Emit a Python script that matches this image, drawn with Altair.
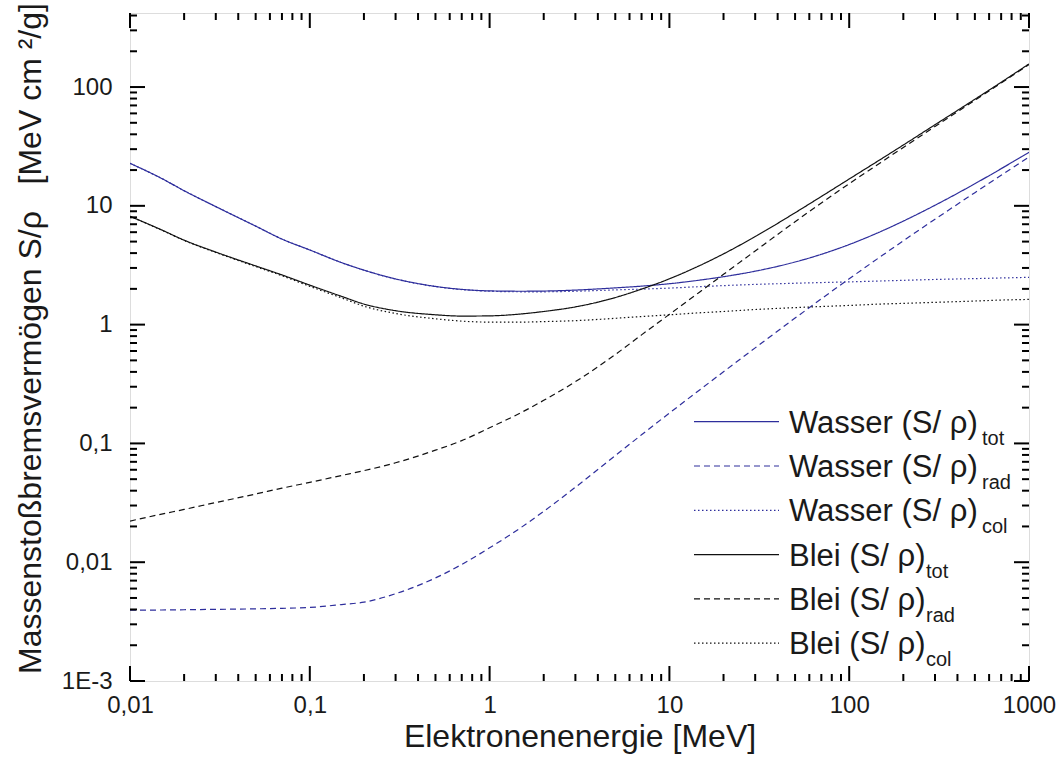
import altair as alt
import pandas as pd

# ---------------- data ----------------
energy = [0.01, 0.015, 0.02, 0.03, 0.05, 0.07, 0.1, 0.15, 0.2, 0.3, 0.5, 0.7,
          1, 1.5, 2, 3, 5, 7, 10, 15, 20, 30, 50, 70, 100, 150, 200, 300, 500, 700, 1000]

wasser_tot = [22.80, 17.00, 13.40, 9.85, 6.75, 5.25, 4.25, 3.33, 2.875, 2.425, 2.097, 1.98,
              1.923, 1.91, 1.917, 1.953, 2.039, 2.108, 2.21, 2.378, 2.531, 2.817, 3.365,
              3.908, 4.722, 6.083, 7.437, 10.107, 15.35, 20.54, 28.24]
wasser_rad = [0.00394, 0.00396, 0.00398, 0.00401, 0.00405, 0.00409, 0.00416, 0.0044,
              0.00461, 0.00543, 0.00737, 0.00958, 0.01321, 0.01965, 0.0268, 0.04275,
              0.0789, 0.1182, 0.180, 0.288, 0.401, 0.637, 1.135, 1.648, 2.432, 3.753,
              5.077, 7.707, 12.91, 18.07, 25.74]
wasser_col = [22.8, 17.0, 13.4, 9.85, 6.75, 5.25, 4.25, 3.33, 2.87, 2.42, 2.09, 1.97,
              1.91, 1.89, 1.89, 1.91, 1.96, 1.99, 2.03, 2.09, 2.13, 2.18, 2.23, 2.26,
              2.29, 2.33, 2.36, 2.40, 2.44, 2.47, 2.50]
blei_tot = [8.17, 6.27, 5.14, 4.08, 3.12, 2.62, 2.15, 1.73, 1.49, 1.31, 1.21, 1.18,
            1.185, 1.23, 1.29, 1.41, 1.69, 1.99, 2.43, 3.18, 3.94, 5.51, 8.74, 11.99,
            16.82, 24.69, 32.51, 48.14, 78.88, 109.6, 156.6]
blei_rad = [0.0222, 0.0254, 0.0278, 0.0318, 0.0375, 0.042, 0.047, 0.0537, 0.059, 0.0687,
            0.0877, 0.1055, 0.1354, 0.182, 0.2305, 0.331, 0.56, 0.82, 1.22, 1.92, 2.65,
            4.17, 7.35, 10.57, 15.37, 23.2, 31.0, 46.6, 77.3, 108, 155]
blei_col = [8.15, 6.24, 5.11, 4.05, 3.08, 2.58, 2.10, 1.68, 1.43, 1.24, 1.12, 1.07,
            1.05, 1.05, 1.06, 1.08, 1.13, 1.17, 1.21, 1.26, 1.29, 1.34, 1.39, 1.42,
            1.45, 1.49, 1.51, 1.54, 1.58, 1.61, 1.63]

series_names = ["Wasser tot", "Wasser rad", "Wasser col", "Blei tot", "Blei rad", "Blei col"]
series_values = [wasser_tot, wasser_rad, wasser_col, blei_tot, blei_rad, blei_col]
legend_main = ["Wasser (S/ ρ)", "Wasser (S/ ρ)", "Wasser (S/ ρ)",
               "Blei (S/ ρ)", "Blei (S/ ρ)", "Blei (S/ ρ)"]
legend_sub = ["tot", "rad", "col", "tot", "rad", "col"]

x_major = [0.01, 0.1, 1, 10, 100, 1000]
y_major = [0.001, 0.01, 0.1, 1, 10, 100]
x_minor = [m * d for d in [0.01, 0.1, 1, 10, 100] for m in range(2, 10)]
y_minor = [m * d for d in [0.001, 0.01, 0.1, 1, 10, 100] for m in range(2, 10) if m * d <= 420]

# ---------------- style / layout ----------------
BLUE = "#2e2e9c"
BLACK = "#111111"
TXT = "#1a1a1a"
FONT = "Liberation Sans"
series_colors = [BLUE, BLUE, BLUE, BLACK, BLACK, BLACK]
series_dashes = [[1, 0], [6, 4], [1.5, 2.5], [1, 0], [6, 4], [1.5, 2.5]]

W, H = 899, 668
MAJ, MIN = 15, 7
LEG_X0, LEG_X1, LEG_TX = 564, 649, 659
LEG_Y0, LEG_GAP = 408.7, 44.3
SUB_X = {"Wasser (S/ ρ)": 852, "Blei (S/ ρ)": 796}

rows = []
for name, vals in zip(series_names, series_values):
    for e, v in zip(energy, vals):
        rows.append({"E": e, "v": v, "series": name})
df = pd.DataFrame(rows)

leg = pd.DataFrame({
    "series": series_names,
    "main": legend_main,
    "sub": legend_sub,
})
leg["ly"] = [LEG_Y0 + i * LEG_GAP for i in range(len(leg))]
leg["sx"] = [SUB_X[m] for m in legend_main]

xscale = alt.Scale(type="log", domain=[0.01, 1000], nice=False)
yscale = alt.Scale(type="log", domain=[0.001, 420], nice=False)
color_scale = alt.Scale(domain=series_names, range=series_colors)
dash_scale = alt.Scale(domain=series_names, range=series_dashes)

xaxis = alt.Axis(values=x_major, ticks=False, tickSize=0, domain=False, grid=False,
                 labelFlush=False, labelFontSize=24, labelFont=FONT, labelColor=TXT,
                 labelPadding=12,
                 labelExpr="replace(toString(datum.value), '.', ',')",
                 titleFontSize=32, titleFont=FONT, titleFontWeight="normal", titleColor=TXT,
                 titleX=W / 2, titleY=65, titleBaseline="alphabetic", titleAlign="center")
yaxis = alt.Axis(values=y_major, ticks=False, tickSize=0, domain=False, grid=False,
                 labelFontSize=24, labelFont=FONT, labelColor=TXT, labelPadding=18,
                 labelExpr="datum.value < 0.005 ? '1E-3' : replace(toString(datum.value), '.', ',')",
                 titleFontSize=32, titleFont=FONT, titleFontWeight="normal", titleColor=TXT,
                 titleX=-90, titleY=325, titleAngle=-90, titleBaseline="alphabetic",
                 titleAlign="center")

XT = "Elektronenenergie [MeV]"
YT = "Massenstoßbremsvermögen S/ρ\u00a0\u00a0\u00a0[MeV cm\u00a0²/g]"


def X(field):
    return alt.X(field, scale=xscale, axis=xaxis, title=XT)


def Y(field):
    return alt.Y(field, scale=yscale, axis=yaxis, title=YT)


lines = alt.Chart(df).mark_line(interpolate="monotone", strokeWidth=1.2, clip=True).encode(
    x=X("E:Q"),
    y=Y("v:Q"),
    color=alt.Color("series:N", scale=color_scale, legend=None),
    strokeDash=alt.StrokeDash("series:N", scale=dash_scale, legend=None),
    detail="series:N",
)

xmaj = pd.DataFrame({"t": x_major})
xmin = pd.DataFrame({"t": x_minor})
ymaj = pd.DataFrame({"t": y_major})
ymin = pd.DataFrame({"t": y_minor})

tick_layers = []
for d, ln in [(xmaj, MAJ), (xmin, MIN)]:
    tick_layers.append(alt.Chart(d).mark_rule(color="black", strokeWidth=2).encode(
        x=X("t:Q"), y=alt.value(H), y2=alt.value(H - ln)))
    tick_layers.append(alt.Chart(d).mark_rule(color="black", strokeWidth=2).encode(
        x=X("t:Q"), y=alt.value(0), y2=alt.value(ln)))
for d, ln in [(ymaj, MAJ), (ymin, MIN)]:
    tick_layers.append(alt.Chart(d).mark_rule(color="black", strokeWidth=2).encode(
        y=Y("t:Q"), x=alt.value(0), x2=alt.value(ln)))
    tick_layers.append(alt.Chart(d).mark_rule(color="black", strokeWidth=2).encode(
        y=Y("t:Q"), x=alt.value(W), x2=alt.value(W - ln)))

leg_lines = alt.Chart(leg).mark_rule(strokeWidth=1.2).encode(
    x=alt.value(LEG_X0), x2=alt.value(LEG_X1),
    y=alt.Y("ly:Q", scale=None, axis=None),
    color=alt.Color("series:N", scale=color_scale, legend=None),
    strokeDash=alt.StrokeDash("series:N", scale=dash_scale, legend=None),
)
leg_text = alt.Chart(leg).mark_text(align="left", baseline="alphabetic", fontSize=31,
                                    font=FONT, color=TXT, dy=11).encode(
    x=alt.value(LEG_TX), y=alt.Y("ly:Q", scale=None, axis=None), text="main:N")
leg_sub = alt.Chart(leg).mark_text(align="left", baseline="alphabetic", fontSize=20,
                                   font=FONT, color=TXT, dy=23).encode(
    x=alt.X("sx:Q", scale=None, axis=None), y=alt.Y("ly:Q", scale=None, axis=None), text="sub:N")

chart = alt.layer(lines, *tick_layers, leg_lines, leg_text, leg_sub).properties(
    width=W, height=H,
    padding={"left": 130, "top": 13, "right": 29, "bottom": 82},
    autosize=alt.AutoSizeParams(type="none"),
).configure_view(stroke="black", strokeWidth=2.5).configure(background="white")

chart.save("out.html", embed_options={"renderer": "svg", "actions": False})
